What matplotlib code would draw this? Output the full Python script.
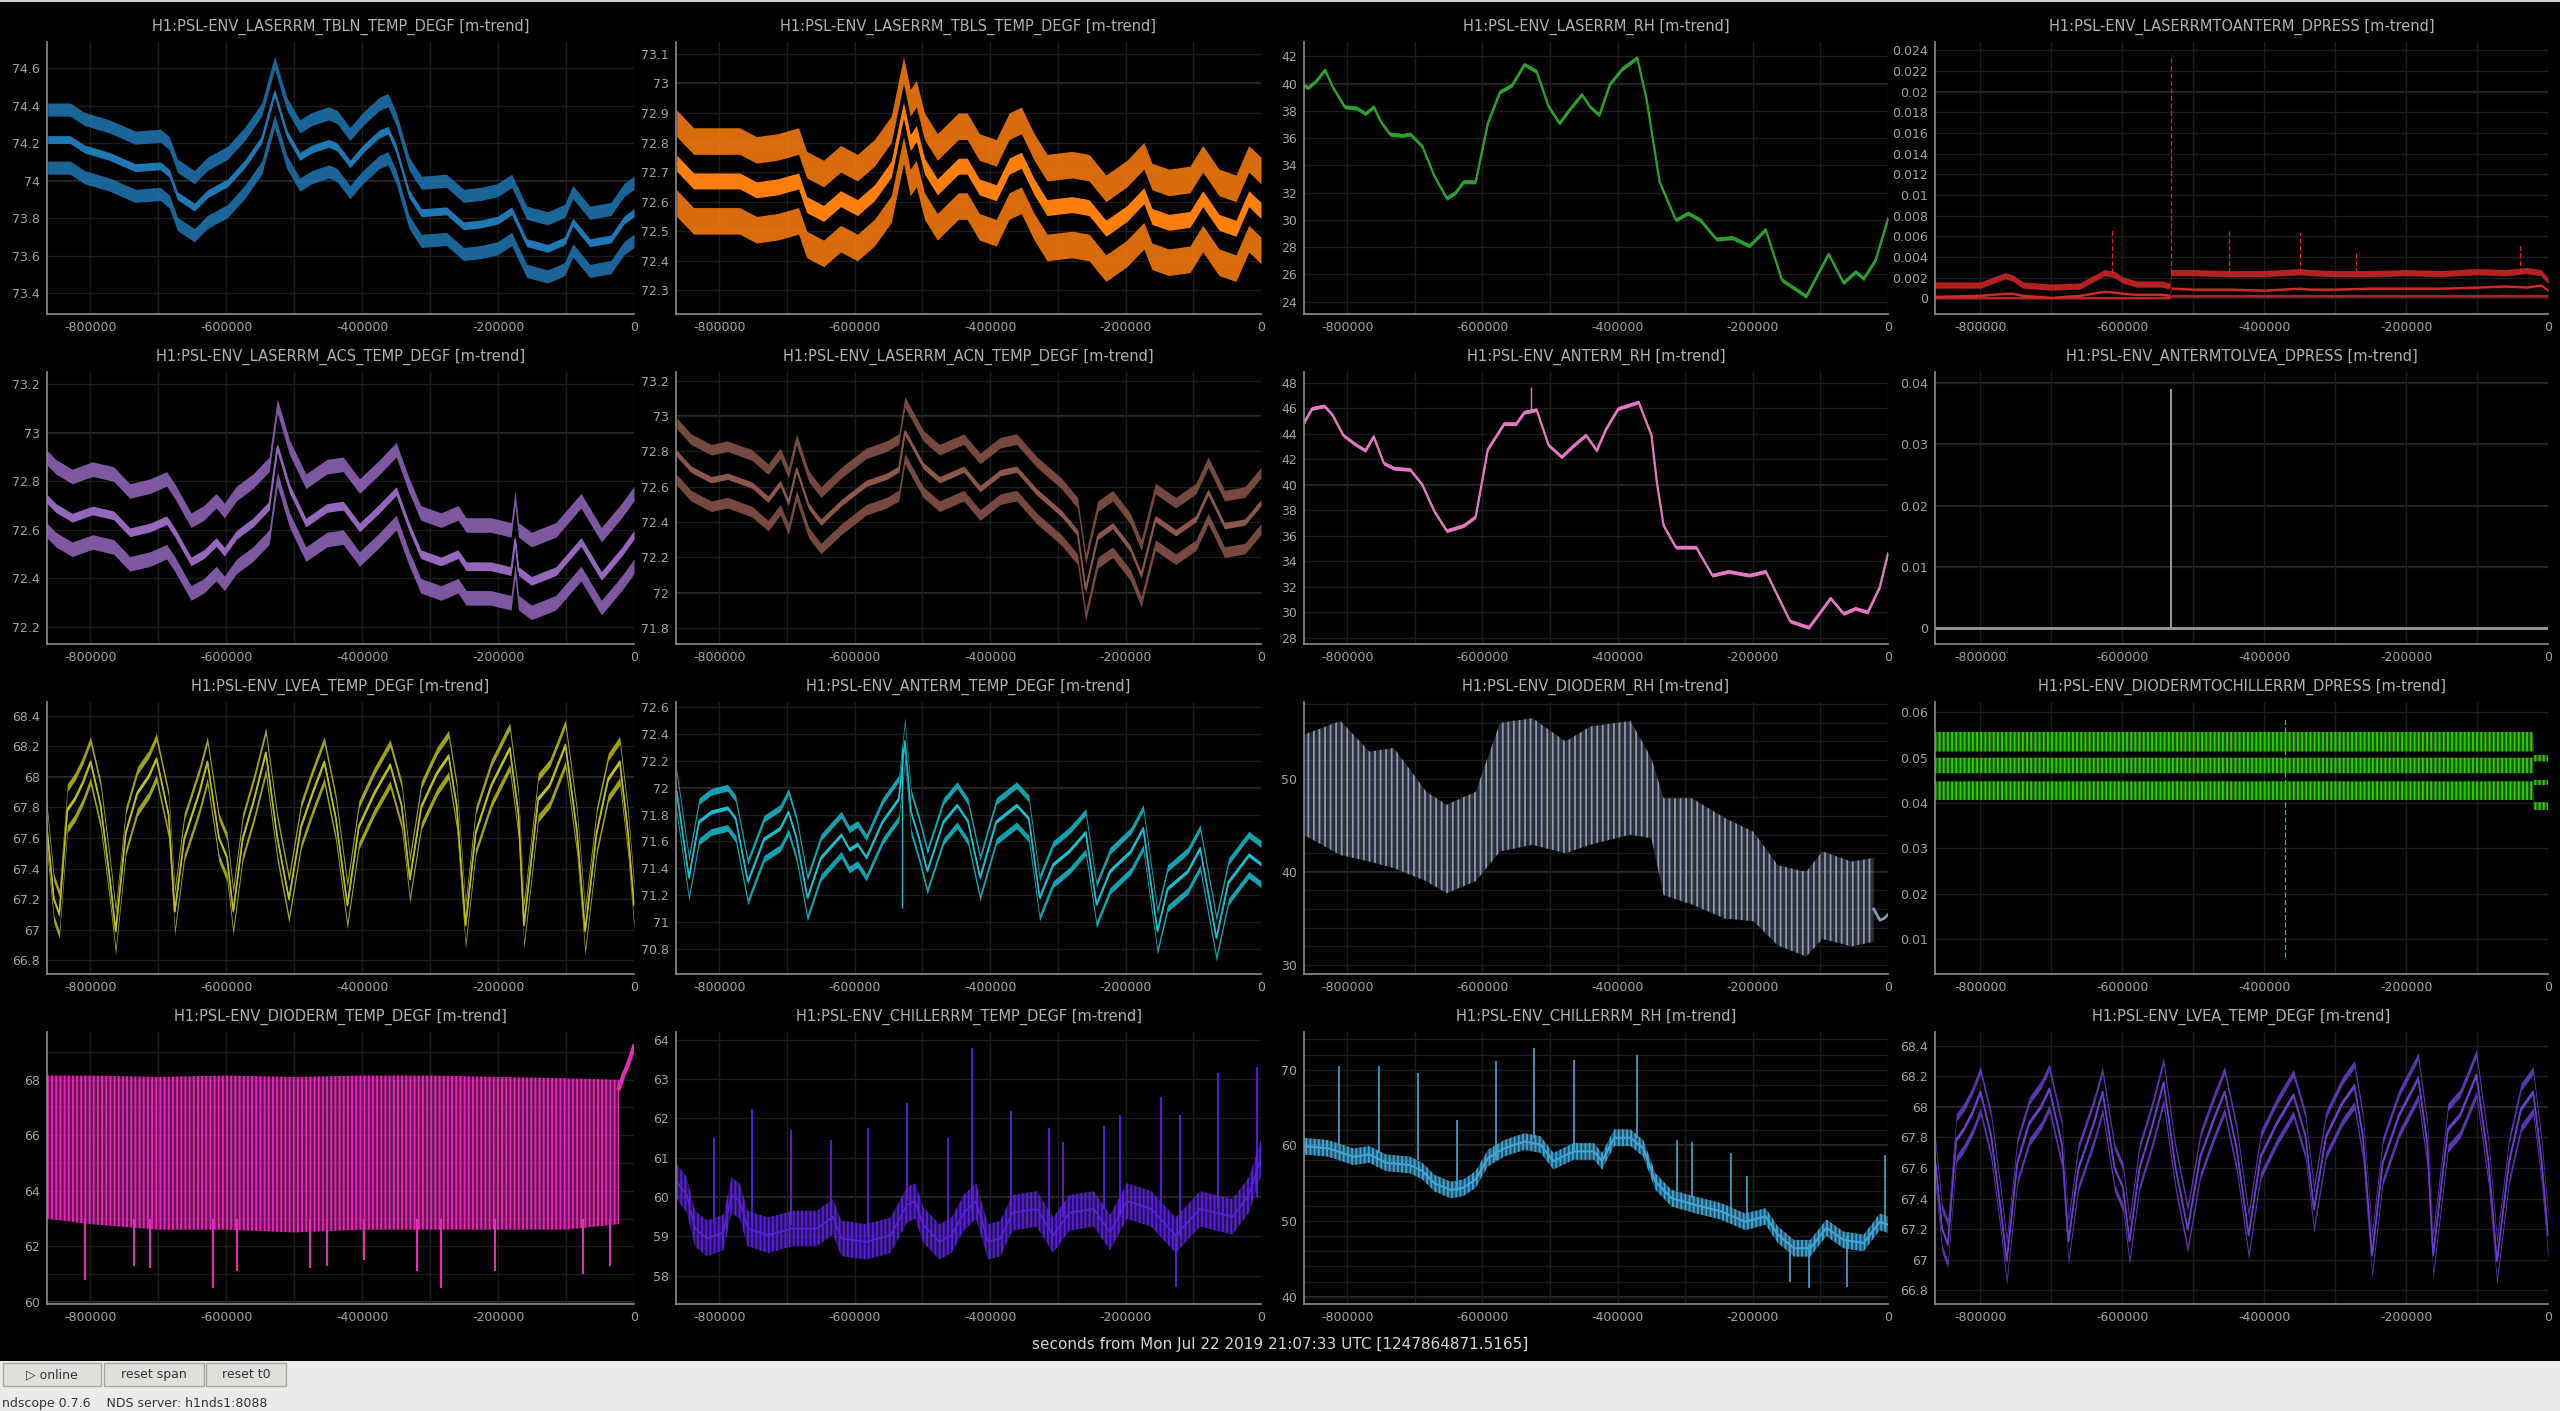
import numpy as np
import matplotlib
matplotlib.use("Agg")
import matplotlib.pyplot as plt
from matplotlib.patches import Rectangle
from matplotlib.ticker import MultipleLocator, FuncFormatter

# -----------------------
# data (time in kiloseconds before t0)
# -----------------------
tbln_t = [-863, -830, -809, -772, -734, -697, -684, -672, -647, -628, -598, -573, -548, -529, -511,
          -492, -474, -449, -437, -418, -399, -375, -362, -350, -331, -313, -276, -251, -226, -201,
          -180, -158, -127, -102, -90, -65, -34, -15, 0]
tbln_mean = [74.22, 74.22, 74.17, 74.13, 74.07, 74.08, 74.04, 73.92, 73.86, 73.93, 73.99, 74.09, 74.22, 74.47, 74.25,
             74.13, 74.17, 74.20, 74.18, 74.09, 74.17, 74.25, 74.27, 74.17, 73.93, 73.83, 73.84, 73.76, 73.77, 73.79,
             73.84, 73.67, 73.64, 73.68, 73.78, 73.67, 73.69, 73.79, 73.83]

tbls_t = [-863, -838, -807, -770, -745, -714, -683, -671, -646, -621, -596, -571, -546, -528, -518,
          -509, -497, -478, -447, -434, -416, -391, -372, -354, -335, -316, -279, -254, -229, -198,
          -173, -161, -136, -105, -86, -62, -37, -18, 0]
tbls_mean = [72.73, 72.67, 72.67, 72.67, 72.64, 72.65, 72.67, 72.59, 72.56, 72.61, 72.58, 72.63, 72.71, 72.91, 72.80,
             72.83, 72.72, 72.65, 72.72, 72.72, 72.65, 72.63, 72.72, 72.74, 72.65, 72.58, 72.59, 72.58, 72.51, 72.56,
             72.62, 72.55, 72.53, 72.54, 72.61, 72.53, 72.51, 72.61, 72.57]

lrh_t = [-865, -858, -846, -833, -822, -804, -786, -773, -761, -749, -737, -719, -707, -689, -671, -653, -640,
         -628, -610, -592, -574, -556, -538, -520, -502, -486, -471, -453, -441, -427, -411, -393, -371, -357,
         -338, -314, -296, -278, -254, -230, -205, -181, -157, -121, -88, -66, -48, -36, -18, 0]
lrh_mean = [39.9, 39.7, 40.2, 41.0, 39.8, 38.3, 38.2, 37.8, 38.3, 37.1, 36.3, 36.2, 36.3, 35.4, 33.2, 31.6, 32.0,
            32.8, 32.8, 37.1, 39.4, 39.9, 41.4, 40.9, 38.3, 37.1, 38.1, 39.2, 38.3, 37.7, 40.0, 41.1, 41.9, 38.8,
            32.8, 30.0, 30.5, 30.0, 28.6, 28.7, 28.1, 29.3, 25.6, 24.4, 27.5, 25.4, 26.2, 25.7, 27.1, 30.1]

dp_t = [-866, -800, -765, -755, -740, -700, -660, -625, -610, -600, -580, -545, -533, -531,
        -500, -450, -400, -350, -335, -300, -250, -200, -150, -100, -60, -30, -10, 0]
dp_max = [0.0013, 0.0013, 0.0022, 0.0020, 0.0013, 0.0011, 0.0012, 0.0025, 0.0023, 0.0018, 0.0014, 0.0014, 0.0012, 0.0025,
          0.0025, 0.0024, 0.0024, 0.0026, 0.0025, 0.0024, 0.0024, 0.0025, 0.0024, 0.0026, 0.0025, 0.0027, 0.0025, 0.0017]
dp_mean = [0.0002, 0.0003, 0.0005, 0.0005, 0.0003, 0.0001, 0.0003, 0.0007, 0.0006, 0.0005, 0.0004, 0.0004, 0.0003, 0.0010,
           0.0009, 0.0009, 0.0008, 0.0010, 0.0009, 0.0009, 0.0010, 0.0010, 0.0010, 0.0011, 0.0012, 0.0011, 0.0013, 0.0008]
dp_min = [0.0] * 13 + [0.0002] * 15
dp_spike_t = [-615, -531, -450, -350, -270, -40]
dp_spike_lo = [0.0025, 0.0025, 0.0025, 0.0025, 0.0025, 0.0025]
dp_spike_hi = [0.0068, 0.0235, 0.0065, 0.0064, 0.0045, 0.0053]

acs_t = [-865, -851, -827, -797, -766, -742, -712, -688, -676, -652, -633, -615, -603, -585, -561, -537, -525,
         -507, -483, -452, -428, -404, -374, -350, -332, -314, -284, -259, -247, -211, -181, -175, -170, -151,
         -115, -78, -48, -18, 0]
acs_mean = [72.73, 72.69, 72.65, 72.68, 72.66, 72.59, 72.61, 72.64, 72.59, 72.47, 72.50, 72.55, 72.51, 72.58, 72.63,
            72.70, 72.94, 72.77, 72.63, 72.69, 72.70, 72.61, 72.69, 72.76, 72.62, 72.50, 72.47, 72.50, 72.45, 72.45,
            72.43, 72.56, 72.43, 72.39, 72.43, 72.55, 72.41, 72.51, 72.58]

acn_t = [-863, -842, -812, -788, -752, -728, -710, -698, -686, -668, -650, -620, -583, -553, -535, -526, -499,
         -475, -439, -415, -385, -361, -331, -295, -271, -259, -241, -219, -193, -177, -156, -126, -96, -78,
         -54, -24, 0]
acn_mean = [72.79, 72.70, 72.64, 72.66, 72.61, 72.53, 72.62, 72.51, 72.70, 72.49, 72.40, 72.51, 72.62, 72.66, 72.70,
            72.91, 72.72, 72.64, 72.70, 72.59, 72.68, 72.70, 72.57, 72.45, 72.34, 72.02, 72.32, 72.38, 72.25, 72.10,
            72.42, 72.34, 72.42, 72.57, 72.38, 72.40, 72.51]

arh_t = [-865, -852, -834, -822, -806, -786, -773, -761, -746, -731, -707, -689, -671, -653, -628, -610, -592,
         -568, -550, -538, -520, -502, -483, -465, -447, -431, -417, -399, -369, -350, -342, -332, -314, -284,
         -260, -236, -205, -181, -169, -145, -117, -85, -66, -48, -30, -12, 0]
arh_mean = [44.8, 46.0, 46.2, 45.5, 43.9, 43.1, 42.7, 43.8, 41.7, 41.3, 41.2, 40.0, 37.9, 36.4, 36.8, 37.5, 42.8,
            44.8, 44.8, 45.7, 45.9, 43.1, 42.2, 43.1, 43.9, 42.7, 44.4, 46.0, 46.5, 43.9, 40.2, 36.8, 35.1, 35.1,
            32.9, 33.2, 32.9, 33.2, 31.9, 29.3, 28.8, 31.1, 29.9, 30.3, 30.0, 32.0, 34.6]
arh_spike = (-528, 45.9, 47.7)

alv_t = [-866, 0]
alv_mean = [0.0, 0.0]
alv_spike = (-531, 0.0, 0.0390)

lvea_t = [-866, -854, -846, -834, -823, -811, -800, -785, -771, -763, -748, -731, -714, -703, -685, -676, -662,
          -640, -628, -611, -599, -590, -576, -559, -542, -525, -508, -490, -473, -456, -439, -422, -405, -382,
          -359, -342, -330, -313, -290, -273, -261, -248, -233, -210, -183, -170, -162, -141, -124, -101, -84,
          -72, -55, -38, -21, -9, 0]
lvea_mean = [67.75, 67.20, 67.10, 67.79, 67.86, 67.97, 68.10, 67.81, 67.31, 66.99, 67.64, 67.90, 68.01, 68.12, 67.75,
             67.12, 67.60, 67.90, 68.10, 67.60, 67.47, 67.12, 67.60, 67.86, 68.16, 67.60, 67.20, 67.68, 67.90, 68.10,
             67.73, 67.16, 67.68, 67.90, 68.08, 67.81, 67.33, 67.81, 68.03, 68.14, 67.81, 67.03, 67.64, 67.95, 68.19,
             67.75, 67.03, 67.86, 67.95, 68.21, 67.64, 66.99, 67.64, 67.99, 68.10, 67.64, 67.16]

at_t = [-863, -845, -830, -812, -788, -776, -758, -734, -710, -698, -686, -670, -650, -620, -608, -596, -583,
        -559, -535, -526, -517, -505, -493, -469, -449, -433, -415, -391, -361, -343, -327, -307, -283, -259,
        -243, -223, -192, -174, -153, -138, -108, -90, -66, -48, -18, 0]
at_mean = [71.97, 71.33, 71.75, 71.82, 71.85, 71.77, 71.30, 71.62, 71.70, 71.82, 71.62, 71.18, 71.48, 71.65, 71.54,
           71.58, 71.48, 71.75, 71.92, 72.35, 71.82, 71.62, 71.38, 71.75, 71.87, 71.75, 71.33, 71.75, 71.87, 71.77,
           71.18, 71.43, 71.53, 71.67, 71.13, 71.38, 71.53, 71.70, 70.93, 71.25, 71.38, 71.55, 70.88, 71.30, 71.50,
           71.43]
at_spike = (-530, 71.1, 72.3)

drh_t = [-865, -810, -767, -731, -683, -653, -610, -574, -526, -477, -441, -381, -350, -332, -290, -242,
         -199, -163, -121, -97, -54, -21]
drh_hi = [54.7, 56.2, 52.9, 53.3, 48.6, 47.2, 48.6, 56.0, 56.5, 54.0, 55.6, 56.2, 52.2, 47.9, 47.9, 45.8,
          44.3, 40.7, 40.0, 42.2, 41.1, 41.5]
drh_lo = [44.0, 41.8, 41.1, 40.4, 39.0, 37.7, 39.0, 42.2, 42.9, 42.0, 42.9, 44.0, 43.6, 37.5, 36.5, 35.0,
          34.7, 32.1, 30.9, 32.8, 32.0, 32.5]
drh_end_t = [-21, -12, -6, 0]
drh_end = [36.0, 34.8, 35.0, 35.4]

dc_t = [-866, -21, -20, 0]
dc_max_hi = [0.0557, 0.0557, 0.0506, 0.0506]
dc_max_lo = [0.0514, 0.0514, 0.0492, 0.0492]
dc_mean_hi = [0.0500, 0.0500, 0.0451, 0.0451]
dc_mean_lo = [0.0466, 0.0466, 0.0440, 0.0440]
dc_min_hi = [0.0448, 0.0448, 0.0402, 0.0402]
dc_min_lo = [0.0407, 0.0407, 0.0385, 0.0385]
dc_spike = (-370, 0.0060, 0.0590)

dt_t = [-865, -800, -700, -600, -500, -400, -300, -200, -100, -22]
dt_hi = [68.15, 68.15, 68.1, 68.15, 68.1, 68.15, 68.15, 68.1, 68.05, 68.0]
dt_lo = [63.0, 62.8, 62.6, 62.6, 62.5, 62.6, 62.6, 62.6, 62.6, 62.8]
dt_dip_t = [-808, -736, -712, -619, -585, -477, -452, -398, -320, -284, -205, -75, -36]
dt_dip = [60.8, 61.3, 61.2, 60.5, 61.1, 61.2, 61.3, 61.5, 61.1, 60.5, 61.1, 61.0, 61.3]
dt_end_t = [-22, -15, -8, 0]
dt_end = [67.7, 68.2, 68.6, 69.2]

ct_t = [-863, -848, -836, -818, -794, -782, -770, -758, -728, -692, -656, -632, -620, -583, -547, -523, -511,
        -499, -475, -457, -439, -421, -403, -385, -367, -331, -307, -283, -247, -223, -198, -162, -126, -90,
        -66, -42, -18, 0]
ct_mean = [60.4, 60.05, 59.2, 58.95, 59.1, 60.05, 59.9, 59.2, 59.03, 59.2, 59.2, 59.5, 58.95, 58.86, 59.03,
           59.8, 59.9, 59.3, 58.86, 59.03, 59.6, 59.9, 58.86, 58.95, 59.6, 59.7, 59.03, 59.6, 59.7, 59.1, 59.9,
           59.7, 59.03, 59.7, 59.6, 59.5, 60.05, 61.0]
ct_spike_t = [-808, -752, -694, -635, -580, -523, -463, -427, -369, -313, -292, -232, -208, -147, -120, -63, -6, -126]
ct_spike_lo = [59.3, 59.3, 59.3, 59.5, 59.0, 59.9, 59.0, 59.6, 59.6, 59.2, 59.5, 59.7, 59.5, 59.6, 59.0, 59.7, 60.0, 57.7]
ct_spike_hi = [61.5, 62.25, 61.7, 61.45, 61.75, 62.4, 61.5, 63.8, 62.2, 61.75, 61.4, 61.8, 62.1, 62.55, 62.1, 63.15, 63.3, 59.0]

crh_t = [-865, -828, -791, -767, -743, -707, -689, -671, -647, -628, -610, -592, -568, -538, -514, -495, -465,
         -435, -423, -405, -381, -362, -344, -320, -284, -248, -211, -181, -163, -139, -115, -91, -66, -36, -12, 0]
crh_mean = [59.9, 59.6, 58.5, 58.8, 57.7, 57.4, 56.6, 55.0, 54.1, 54.4, 55.5, 58.3, 59.6, 60.5, 60.1, 57.9, 59.2,
            59.2, 57.9, 61.0, 61.0, 59.6, 55.2, 53.0, 52.1, 51.3, 49.9, 50.6, 48.2, 46.4, 46.4, 49.1, 47.5, 47.1,
            49.9, 49.5]
crh_spike_t = [-812, -753, -695, -637, -580, -523, -465, -371, -312, -290, -232, -209, -4, -145, -117, -60]
crh_spike_lo = [60, 59, 58, 54, 58, 61, 59, 61, 54, 53, 51, 50, 49, 42.0, 41.1, 41.3]
crh_spike_hi = [70.45, 70.45, 69.6, 63.4, 71.2, 72.9, 71.3, 71.9, 60.7, 60.5, 59.0, 55.9, 58.7, 47, 47, 48]

t0_label = "seconds from Mon Jul 22 2019 21:07:33 UTC [1247864871.5165]"

# -----------------------
# figure setup
# -----------------------
W, H = 2560, 1411
plt.rcParams["font.family"] = ["DejaVu Sans"]
plt.rcParams["hatch.linewidth"] = 1.3
fig = plt.figure(figsize=(W / 100, H / 100), dpi=100, facecolor="black")

col_px = [(47, 634), (676, 1261), (1304, 1888), (1935, 2548)]
row_px = [(42, 314), (372, 644), (702, 974), (1032, 1304)]

DIM = "#1c1c1c"
BRIGHT = "#383838"
TXT = "#a2a2a2"


def make_ax(r, c, title, ylim, major, minor, bright):
    x0, x1 = col_px[c]
    y0, y1 = row_px[r]
    ax = fig.add_axes([x0 / W, 1 - y1 / H, (x1 - x0) / W, (y1 - y0) / H], facecolor="black")
    ax.set_xlim(-864000, 0)
    ax.set_ylim(*ylim)
    ax.xaxis.set_major_locator(MultipleLocator(200000))
    ax.xaxis.set_minor_locator(MultipleLocator(100000))
    ax.yaxis.set_major_locator(MultipleLocator(major))
    ax.yaxis.set_minor_locator(MultipleLocator(minor))
    fmt = FuncFormatter(lambda v, p: f"{round(v, 6) + 0.0:g}")
    ax.xaxis.set_major_formatter(fmt)
    ax.yaxis.set_major_formatter(fmt)
    ax.grid(which="both", color=DIM, lw=1, zorder=0)
    ax.set_axisbelow(True)
    for b in bright:
        ax.axhline(b, color=BRIGHT, lw=1.2, zorder=0.5)
    for s in ("top", "right"):
        ax.spines[s].set_visible(False)
    for s in ("left", "bottom"):
        ax.spines[s].set_color("#8c8c8c")
        ax.spines[s].set_linewidth(1.2)
    ax.tick_params(which="both", length=0, pad=5, labelsize=9, colors=TXT)
    fig.text((x0 + x1) / 2 / W, 1 - (y0 - 15) / H, title, ha="center", va="center",
             color="#b0b0b0", fontsize=10.5)
    return ax


def ks(t):
    return np.asarray(t, dtype=float) * 1000


def trend(ax, t, mean, hi, lo, noise, color):
    t = ks(t)
    m = np.asarray(mean)
    for off in (hi, -lo):
        ax.fill_between(t, m + off - noise, m + off + noise, color=color, alpha=0.85, lw=0)
    ax.fill_between(t, m - noise * 0.6, m + noise * 0.6, color=color, lw=0)
    ax.plot(t, m, color=color, lw=1.2)


def band(ax, t, lo, hi, color, hatch, alpha=0.3):
    t = ks(t)
    ax.fill_between(t, lo, hi, facecolor=color, alpha=alpha, lw=0)
    ax.fill_between(t, lo, hi, facecolor="none", edgecolor=color, hatch=hatch, lw=0)


def spikes(ax, t, lo, hi, color, lw=1.0, ls="-"):
    ax.vlines(ks(t), lo, hi, color=color, lw=lw, linestyles=ls)


# -----------------------
# row 1
# -----------------------
ax = make_ax(0, 0, "H1:PSL-ENV_LASERRM_TBLN_TEMP_DEGF [m-trend]", (73.29, 74.74), 0.2, 0.2, [74])
trend(ax, tbln_t, tbln_mean, 0.16, 0.15, 0.035, "#1f77b4")

ax = make_ax(0, 1, "H1:PSL-ENV_LASERRM_TBLS_TEMP_DEGF [m-trend]", (72.22, 73.14), 0.1, 0.1, [73])
trend(ax, tbls_t, tbls_mean, 0.135, 0.135, 0.045, "#ff7f0e")

ax = make_ax(0, 2, "H1:PSL-ENV_LASERRM_RH [m-trend]", (23.1, 43.05), 2, 2, [40])
ax.fill_between(ks(lrh_t), np.array(lrh_mean) - 0.15, np.array(lrh_mean) + 0.15, color="#2ca02c", lw=0)
ax.plot(ks(lrh_t), lrh_mean, color="#2ca02c", lw=1.6)

ax = make_ax(0, 3, "H1:PSL-ENV_LASERRMTOANTERM_DPRESS [m-trend]", (-0.0015, 0.0248), 0.002, 0.002, [0, 0.02])
red = "#d62728"
ax.fill_between(ks(dp_t), np.array(dp_max) - 0.0003, np.array(dp_max) + 0.0003, color=red, alpha=0.85, lw=0)
ax.fill_between(ks(dp_t), np.array(dp_mean) - 0.00012, np.array(dp_mean) + 0.00012, color=red, lw=0)
ax.fill_between(ks(dp_t), np.array(dp_min) - 0.00005, np.array(dp_min) + 0.0002, color=red, alpha=0.8, lw=0)
spikes(ax, dp_spike_t, dp_spike_lo, dp_spike_hi, red, lw=0.9, ls=(0, (4, 2)))

# -----------------------
# row 2
# -----------------------
ax = make_ax(1, 0, "H1:PSL-ENV_LASERRM_ACS_TEMP_DEGF [m-trend]", (72.13, 73.25), 0.2, 0.2, [73])
trend(ax, acs_t, acs_mean, 0.17, 0.13, 0.03, "#9467bd")

ax = make_ax(1, 1, "H1:PSL-ENV_LASERRM_ACN_TEMP_DEGF [m-trend]", (71.71, 73.25), 0.2, 0.2, [72, 73])
trend(ax, acn_t, acn_mean, 0.17, 0.15, 0.03, "#8c564b")

ax = make_ax(1, 2, "H1:PSL-ENV_ANTERM_RH [m-trend]", (27.5, 48.86), 2, 2, [40])
ax.fill_between(ks(arh_t), np.array(arh_mean) - 0.15, np.array(arh_mean) + 0.15, color="#e377c2", lw=0)
ax.plot(ks(arh_t), arh_mean, color="#e377c2", lw=1.6)
spikes(ax, [arh_spike[0]], [arh_spike[1]], [arh_spike[2]], "#e377c2")

ax = make_ax(1, 3, "H1:PSL-ENV_ANTERMTOLVEA_DPRESS [m-trend]", (-0.00255, 0.0418), 0.01, 0.01,
             [0.01, 0.02, 0.03, 0.04])
ax.plot(ks(alv_t), alv_mean, color="#9a9a9a", lw=2)
spikes(ax, [alv_spike[0]], [alv_spike[1]], [alv_spike[2]], "#b4b4b4", lw=1.2)

# -----------------------
# row 3
# -----------------------
ax = make_ax(2, 0, "H1:PSL-ENV_LVEA_TEMP_DEGF [m-trend]", (66.71, 68.49), 0.2, 0.2, [68])
trend(ax, lvea_t, lvea_mean, 0.14, 0.13, 0.025, "#bcbd22")

ax = make_ax(2, 1, "H1:PSL-ENV_ANTERM_TEMP_DEGF [m-trend]", (70.61, 72.64), 0.2, 0.2, [72])
trend(ax, at_t, at_mean, 0.15, 0.15, 0.025, "#17becf")
spikes(ax, [at_spike[0]], [at_spike[1]], [at_spike[2]], "#17becf")

ax = make_ax(2, 2, "H1:PSL-ENV_DIODERM_RH [m-trend]", (29.03, 58.24), 10, 2, [40])
band(ax, drh_t, drh_lo, drh_hi, "#8b99b8", "|||", alpha=0.3)
ax.plot(ks(drh_end_t), drh_end, color="#8b99b8", lw=2)

ax = make_ax(2, 3, "H1:PSL-ENV_DIODERMTOCHILLERRM_DPRESS [m-trend]", (0.0023, 0.0623), 0.01, 0.01, [])
for lo, hi in ((dc_max_lo, dc_max_hi), (dc_mean_lo, dc_mean_hi), (dc_min_lo, dc_min_hi)):
    band(ax, dc_t, lo, hi, "#33cc00", "||||", alpha=0.45)
spikes(ax, [dc_spike[0]], [dc_spike[1]], [dc_spike[2]], "#33cc00", lw=0.9, ls=(0, (4, 2)))

# -----------------------
# row 4
# -----------------------
ax = make_ax(3, 0, "H1:PSL-ENV_DIODERM_TEMP_DEGF [m-trend]", (59.92, 69.72), 2, 1, [60])
band(ax, dt_t, dt_lo, dt_hi, "#e62ab8", "||||", alpha=0.45)
spikes(ax, dt_dip_t, dt_dip, [63.0] * len(dt_dip), "#e62ab8", lw=1.5)
ax.plot(ks(dt_end_t), dt_end, color="#e62ab8", lw=3)

ax = make_ax(3, 1, "H1:PSL-ENV_CHILLERRM_TEMP_DEGF [m-trend]", (57.28, 64.2), 1, 1, [60])
band(ax, ct_t, np.array(ct_mean) - 0.45, np.array(ct_mean) + 0.45, "#5a22d8", "||||", alpha=0.45)
ax.plot(ks(ct_t), ct_mean, color="#5a22d8", lw=1.2)
spikes(ax, ct_spike_t, ct_spike_lo, ct_spike_hi, "#5a22d8", lw=1.3)

ax = make_ax(3, 2, "H1:PSL-ENV_CHILLERRM_RH [m-trend]", (39.03, 74.98), 10, 2, [40, 60])
band(ax, crh_t, np.array(crh_mean) - 1.1, np.array(crh_mean) + 1.1, "#42a5d5", "||||", alpha=0.5)
ax.plot(ks(crh_t), crh_mean, color="#42a5d5", lw=1.5)
spikes(ax, crh_spike_t, crh_spike_lo, crh_spike_hi, "#42a5d5", lw=1.2)

ax = make_ax(3, 3, "H1:PSL-ENV_LVEA_TEMP_DEGF [m-trend]", (66.71, 68.49), 0.2, 0.2, [68])
trend(ax, lvea_t, lvea_mean, 0.14, 0.13, 0.025, "#6b3fcc")

# -----------------------
# bottom label and toolbar
# -----------------------
fig.text(0.5, 1 - 1344 / H, t0_label, ha="center", va="center", color="#d4d4d4", fontsize=11)

fig.add_artist(Rectangle((0, 0), 1, 50 / H, transform=fig.transFigure, facecolor="#edebe9",
                         edgecolor="none"))
fig.add_artist(Rectangle((0, 1 - 2 / H), 1, 2 / H, transform=fig.transFigure, facecolor="#d0d0d0",
                         edgecolor="none"))
buttons = [("\u25b7 online", 3, 101), ("reset span", 104, 204), ("reset t0", 206, 286)]
for label, bx0, bx1 in buttons:
    fig.add_artist(Rectangle((bx0 / W, 1 - 1386 / H), (bx1 - bx0) / W, 23 / H, transform=fig.transFigure,
                             facecolor="#e1dfdc", edgecolor="#a9a7a4", lw=1))
    fig.text((bx0 + bx1) / 2 / W, 1 - 1374.5 / H, label, ha="center", va="center", color="#2e3436",
             fontsize=9)
fig.text(2 / W, 1 - 1403 / H, "ndscope 0.7.6    NDS server: h1nds1:8088", ha="left", va="center",
         color="#2e3436", fontsize=9)

fig.savefig("out.png", dpi=100, facecolor="black")
